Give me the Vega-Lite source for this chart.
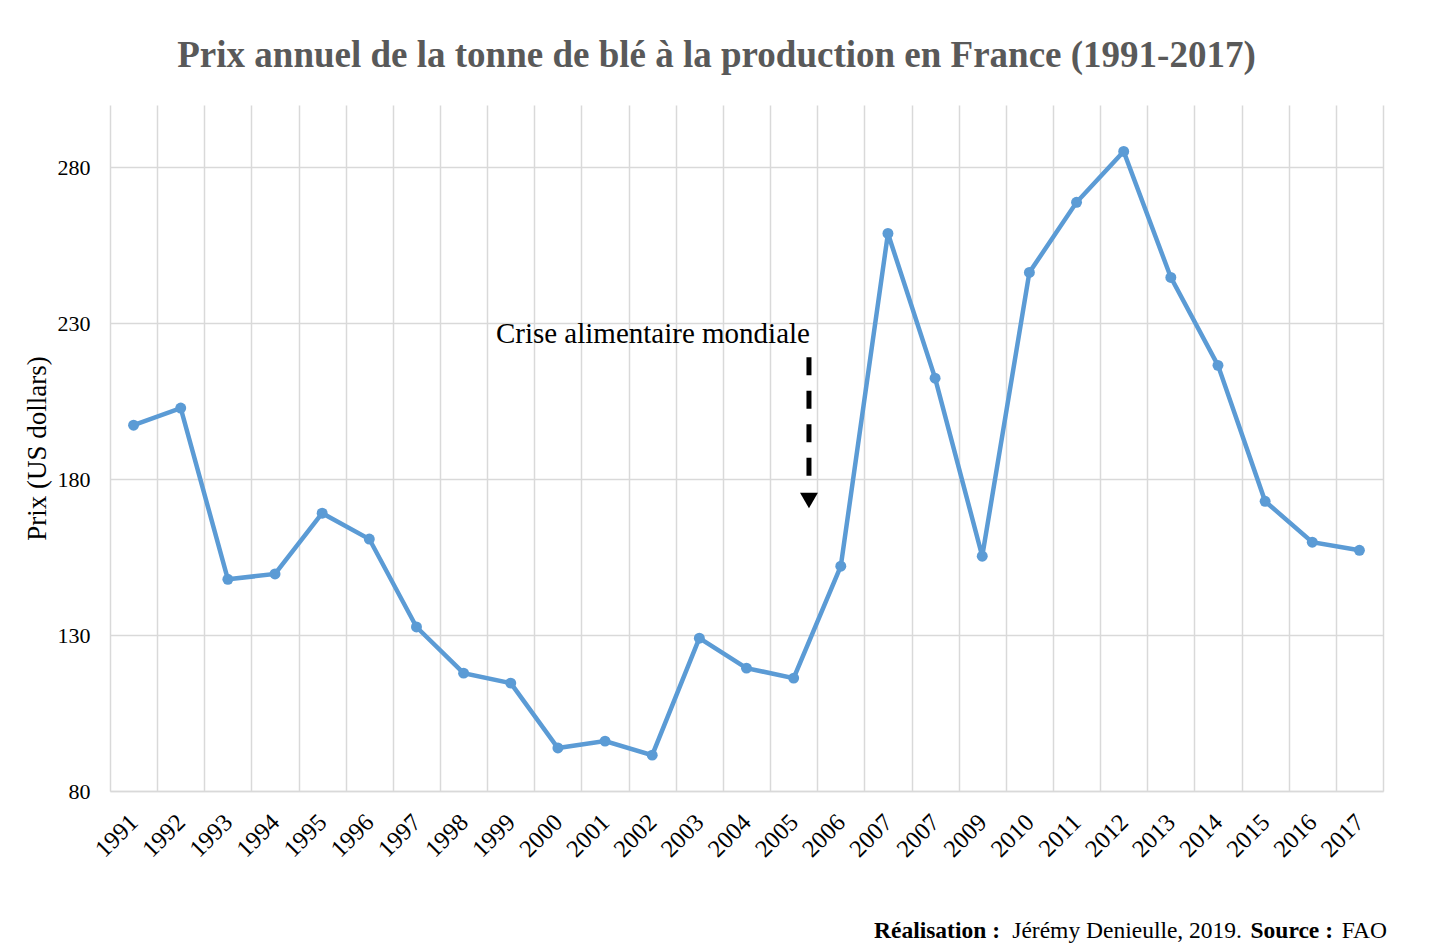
{
  "$schema": "https://vega.github.io/schema/vega-lite/v6.json",
  "width": 1273,
  "height": 686,
  "autosize": {"type": "none"},
  "padding": {"left": 110, "top": 105, "right": 47, "bottom": 153},
  "background": "white",
  "title": {
    "text": "Prix annuel de la tonne de blé à la production en France (1991-2017)",
    "font": "Liberation Serif",
    "fontSize": 37,
    "fontWeight": "bold",
    "color": "#595959",
    "anchor": "middle",
    "dx": -30,
    "offset": 30
  },
  "config": {
    "view": {"stroke": null},
    "axis": {
      "labelFont": "Liberation Serif",
      "titleFont": "Liberation Serif",
      "labelColor": "#000000",
      "titleColor": "#000000",
      "gridColor": "#d9d9d9",
      "gridWidth": 1.5
    }
  },
  "datasets": {
    "prix": [
      {"year": "1991", "prix": 197.3},
      {"year": "1992", "prix": 202.8},
      {"year": "1993", "prix": 147.9},
      {"year": "1994", "prix": 149.6},
      {"year": "1995", "prix": 169.1},
      {"year": "1996", "prix": 160.8},
      {"year": "1997", "prix": 132.6},
      {"year": "1998", "prix": 117.8},
      {"year": "1999", "prix": 114.6},
      {"year": "2000", "prix": 93.8},
      {"year": "2001", "prix": 96.0},
      {"year": "2002", "prix": 91.5},
      {"year": "2003", "prix": 129.0},
      {"year": "2004", "prix": 119.4},
      {"year": "2005", "prix": 116.2},
      {"year": "2006", "prix": 152.1},
      {"year": "2007", "prix": 258.8},
      {"year": "2008", "prix": 212.4},
      {"year": "2009", "prix": 155.3},
      {"year": "2010", "prix": 246.3},
      {"year": "2011", "prix": 268.8},
      {"year": "2012", "prix": 285.1},
      {"year": "2013", "prix": 244.7},
      {"year": "2014", "prix": 216.5},
      {"year": "2015", "prix": 172.9},
      {"year": "2016", "prix": 159.8},
      {"year": "2017", "prix": 157.2}
    ]
  },
  "layer": [
    {
      "data": {"name": "prix"},
      "mark": {"type": "line", "color": "#5B9BD5", "strokeWidth": 4.5},
      "encoding": {
        "x": {
          "field": "year",
          "type": "ordinal",
          "scale": {"paddingInner": 0, "paddingOuter": 0},
          "axis": {
            "title": null,
            "labelAngle": -45,
            "labelFontSize": 24.5,
            "labelPadding": 19,
            "labelOffset": -8,
            "ticks": false,
            "tickBand": "extent",
            "grid": true,
            "domainColor": "#d9d9d9",
            "domainWidth": 1.5,
            "labelExpr": "datum.value == '2008' ? '2007' : datum.label"
          }
        },
        "y": {
          "field": "prix",
          "type": "quantitative",
          "scale": {"domain": [80, 300], "nice": false, "zero": false},
          "axis": {
            "title": "Prix (US dollars)",
            "titleFontSize": 27,
            "titleFontWeight": "normal",
            "titlePadding": 6,
            "labelFontSize": 22,
            "labelPadding": 20,
            "values": [80, 130, 180, 230, 280],
            "ticks": false,
            "domain": false,
            "grid": true
          }
        }
      }
    },
    {
      "data": {"name": "prix"},
      "mark": {"type": "point", "filled": true, "color": "#5B9BD5", "size": 120, "opacity": 1},
      "encoding": {
        "x": {"field": "year", "type": "ordinal"},
        "y": {"field": "prix", "type": "quantitative"}
      }
    },
    {
      "data": {"values": [{}]},
      "mark": {"type": "rule", "color": "#000000", "strokeWidth": 5, "strokeDash": [18, 15.5]},
      "encoding": {
        "x": {"datum": "2005", "type": "ordinal", "bandPosition": 0.825},
        "y": {"datum": 219.1, "type": "quantitative"},
        "y2": {"datum": 181.0}
      }
    },
    {
      "data": {"values": [{}]},
      "mark": {"type": "point", "shape": "triangle-down", "filled": true, "color": "#000000", "size": 320, "opacity": 1},
      "encoding": {
        "x": {"datum": "2005", "type": "ordinal", "bandPosition": 0.825},
        "y": {"datum": 173.2, "type": "quantitative"}
      }
    },
    {
      "data": {"values": [{}]},
      "mark": {"type": "text", "text": "Crise alimentaire mondiale", "font": "Liberation Serif", "fontSize": 29, "align": "right", "baseline": "alphabetic", "color": "#000000", "dx": 1},
      "encoding": {
        "x": {"datum": "2005", "type": "ordinal", "bandPosition": 0.825},
        "y": {"datum": 223.6, "type": "quantitative"}
      }
    },
    {
      "data": {"values": [{}]},
      "mark": {"type": "text", "text": "Réalisation :", "font": "Liberation Serif", "fontSize": 23.5, "fontWeight": "bold", "align": "right", "baseline": "alphabetic", "color": "#000000", "dx": -383, "dy": 147},
      "encoding": {
        "x": {"datum": "2017", "type": "ordinal", "bandPosition": 1},
        "y": {"datum": 80, "type": "quantitative"}
      }
    },
    {
      "data": {"values": [{}]},
      "mark": {"type": "text", "text": "Jérémy Denieulle, 2019.", "font": "Liberation Serif", "fontSize": 23.5, "align": "right", "baseline": "alphabetic", "color": "#000000", "dx": -141, "dy": 147},
      "encoding": {
        "x": {"datum": "2017", "type": "ordinal", "bandPosition": 1},
        "y": {"datum": 80, "type": "quantitative"}
      }
    },
    {
      "data": {"values": [{}]},
      "mark": {"type": "text", "text": "Source :", "font": "Liberation Serif", "fontSize": 23.5, "fontWeight": "bold", "align": "right", "baseline": "alphabetic", "color": "#000000", "dx": -50, "dy": 147},
      "encoding": {
        "x": {"datum": "2017", "type": "ordinal", "bandPosition": 1},
        "y": {"datum": 80, "type": "quantitative"}
      }
    },
    {
      "data": {"values": [{}]},
      "mark": {"type": "text", "text": "FAO", "font": "Liberation Serif", "fontSize": 23.5, "align": "right", "baseline": "alphabetic", "color": "#000000", "dx": 4, "dy": 147},
      "encoding": {
        "x": {"datum": "2017", "type": "ordinal", "bandPosition": 1},
        "y": {"datum": 80, "type": "quantitative"}
      }
    }
  ]
}
